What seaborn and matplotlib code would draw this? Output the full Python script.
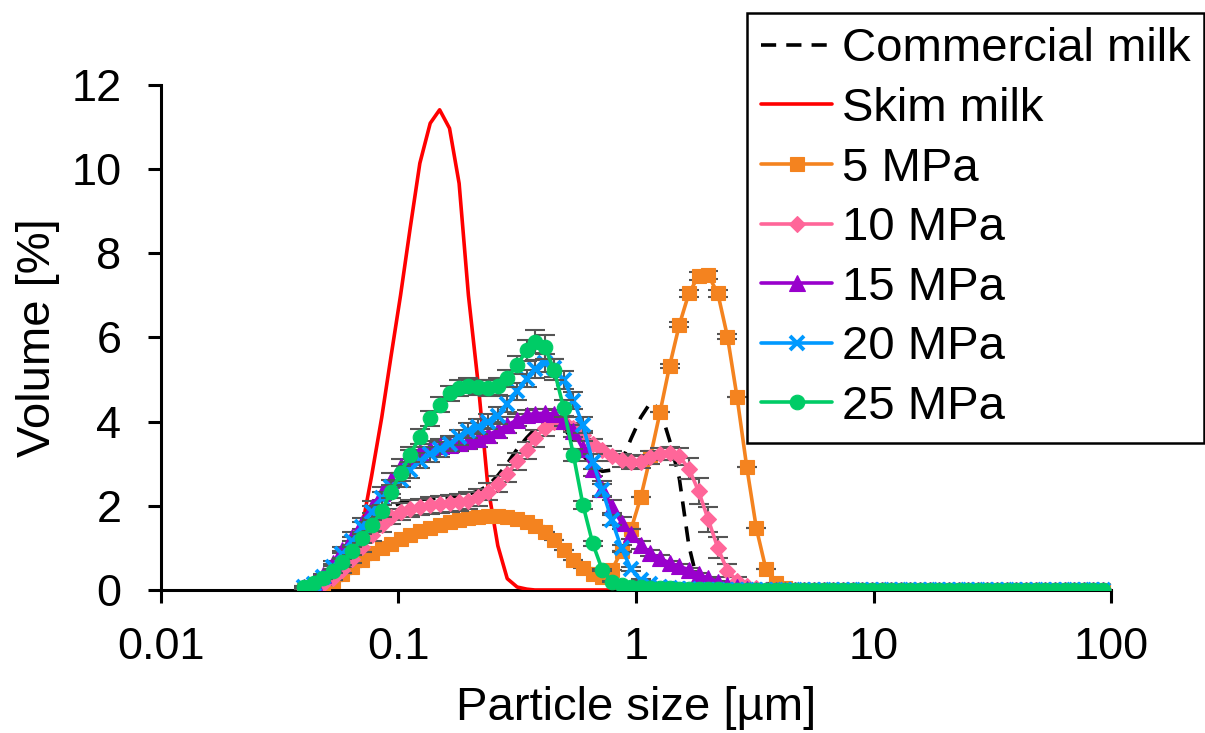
import matplotlib
matplotlib.use("Agg")
import matplotlib.pyplot as plt
import seaborn as sns
from matplotlib.ticker import FixedLocator, FixedFormatter, NullLocator

# ---------------- data ----------------
size_um = [
    0.040, 0.044, 0.048, 0.053, 0.058, 0.064, 0.070, 0.077, 0.085, 0.093,
    0.102, 0.112, 0.123, 0.136, 0.149, 0.164, 0.180, 0.197, 0.217, 0.238,
    0.262, 0.287, 0.316, 0.347, 0.375, 0.412, 0.452, 0.496, 0.545, 0.598,
    0.657, 0.721, 0.791, 0.869, 0.954, 1.047, 1.150, 1.262, 1.386, 1.522,
    1.670, 1.834, 2.013, 2.210, 2.427, 2.664, 2.925, 3.211, 3.525, 3.870,
    4.249, 4.665, 5.122, 5.623, 6.173, 6.777, 7.440, 8.168, 8.968, 9.845,
    10.81, 11.87, 13.03, 14.30, 15.70, 17.24, 18.93, 20.78, 22.81, 25.05,
    27.50, 30.19, 33.14, 36.38, 39.94, 43.85, 48.14, 52.85, 58.03, 63.71,
    69.94, 76.78, 84.29, 92.54,
]

commercial_milk = [
    0.05, 0.12, 0.22, 0.40, 0.65, 0.95, 1.25, 1.55, 1.80, 1.97,
    2.07, 2.12, 2.15, 2.17, 2.18, 2.20, 2.24, 2.28, 2.35, 2.48,
    2.72, 3.00, 3.35, 3.62, 3.82, 3.95, 4.00, 3.85, 3.55, 3.20,
    2.95, 2.82, 2.85, 3.05, 3.60, 4.10, 4.45, 4.30, 3.55, 2.65,
    1.05, 0.10, 0, 0, 0, 0, 0, 0, 0, 0,
    0, 0, 0, 0, 0, 0, 0, 0, 0, 0,
    0, 0, 0, 0, 0, 0, 0, 0, 0, 0,
    0, 0, 0, 0, 0, 0, 0, 0, 0, 0,
    0, 0, 0, 0,
]

skim_milk = [
    0, 0.01, 0.03, 0.10, 0.30, 0.75, 1.45, 2.70, 4.10, 5.55,
    7.00, 8.60, 10.14, 11.09, 11.41, 10.97, 9.66, 7.00, 4.85, 2.45,
    1.05, 0.27, 0.07, 0.02, 0, 0, 0, 0, 0, 0,
    0, 0, 0, 0, 0, 0, 0, 0, 0, 0,
    0, 0, 0, 0, 0, 0, 0, 0, 0, 0,
    0, 0, 0, 0, 0, 0, 0, 0, 0, 0,
    0, 0, 0, 0, 0, 0, 0, 0, 0, 0,
    0, 0, 0, 0, 0, 0, 0, 0, 0, 0,
    0, 0, 0, 0,
]

mpa_5 = [
    0.02, 0.06, 0.12, 0.21, 0.38, 0.55, 0.72, 0.87, 1.00, 1.10,
    1.20, 1.30, 1.39, 1.48, 1.55, 1.61, 1.67, 1.71, 1.74, 1.75,
    1.75, 1.73, 1.69, 1.62, 1.52, 1.38, 1.18, 0.95, 0.72, 0.52,
    0.38, 0.30, 0.48, 0.92, 1.45, 2.20, 3.17, 4.22, 5.33, 6.30,
    7.05, 7.46, 7.48, 7.05, 6.02, 4.58, 2.93, 1.47, 0.49, 0.16,
    0.04, 0.01, 0, 0, 0, 0, 0, 0, 0, 0,
    0, 0, 0, 0, 0, 0, 0, 0, 0, 0,
    0, 0, 0, 0, 0, 0, 0, 0, 0, 0,
    0, 0, 0, 0,
]
mpa_5_err = [
    0, 0, 0, 0, 0, 0, 0, 0, 0, 0,
    0, 0, 0, 0, 0, 0, 0, 0, 0, 0,
    0, 0, 0, 0, 0, 0, 0, 0, 0, 0,
    0, 0, 0, 0, 0, 0, 0, 0, 0.05, 0.06,
    0.08, 0.10, 0.10, 0.08, 0.06, 0, 0, 0, 0, 0,
    0, 0, 0, 0, 0, 0, 0, 0, 0, 0,
    0, 0, 0, 0, 0, 0, 0, 0, 0, 0,
    0, 0, 0, 0, 0, 0, 0, 0, 0, 0,
    0, 0, 0, 0,
]

mpa_10 = [
    0.04, 0.08, 0.15, 0.28, 0.48, 0.74, 1.03, 1.31, 1.54, 1.74,
    1.86, 1.93, 1.97, 2.01, 2.04, 2.06, 2.08, 2.12, 2.20, 2.34,
    2.52, 2.76, 3.06, 3.32, 3.60, 3.85, 3.98, 3.98, 3.86, 3.68,
    3.48, 3.32, 3.18, 3.08, 3.03, 3.05, 3.15, 3.23, 3.25, 3.18,
    2.88, 2.35, 1.68, 1.00, 0.46, 0.22, 0.10, 0.04, 0.01, 0,
    0, 0, 0, 0, 0, 0, 0, 0, 0, 0,
    0, 0, 0, 0, 0, 0, 0, 0, 0, 0,
    0, 0, 0, 0, 0, 0, 0, 0, 0, 0,
    0, 0, 0, 0,
]
mpa_10_err = [
    0.01, 0.02, 0.03, 0.05, 0.07, 0.10, 0.12, 0.15, 0.17, 0.18,
    0.20, 0.20, 0.20, 0.20, 0.20, 0.20, 0.20, 0.20, 0.20, 0.20,
    0.20, 0.20, 0.20, 0.20, 0.20, 0.18, 0.15, 0.12, 0.10, 0.10,
    0.10, 0.10, 0.12, 0.15, 0.15, 0.15, 0.15, 0.15, 0.15, 0.20,
    0.25, 0.30, 0.30, 0.25, 0.15, 0.08, 0.04, 0.02, 0.01, 0,
    0, 0, 0, 0, 0, 0, 0, 0, 0, 0,
    0, 0, 0, 0, 0, 0, 0, 0, 0, 0,
    0, 0, 0, 0, 0, 0, 0, 0, 0, 0,
    0, 0, 0, 0,
]

mpa_15 = [
    0.08, 0.18, 0.35, 0.63, 0.95, 1.27, 1.58, 1.98, 2.30, 2.62,
    2.95, 3.15, 3.28, 3.36, 3.41, 3.45, 3.49, 3.53, 3.58, 3.68,
    3.80, 3.92, 4.04, 4.16, 4.19, 4.20, 4.18, 4.02, 3.78, 3.35,
    2.88, 2.40, 1.98, 1.60, 1.33, 1.07, 0.88, 0.75, 0.64, 0.56,
    0.48, 0.37, 0.28, 0.20, 0.12, 0.06, 0.03, 0.01, 0, 0,
    0, 0, 0, 0, 0, 0, 0, 0, 0, 0,
    0, 0, 0, 0, 0, 0, 0, 0, 0, 0,
    0, 0, 0, 0, 0, 0, 0, 0, 0, 0,
    0, 0, 0, 0,
]
mpa_15_err = [
    0.01, 0.02, 0.04, 0.06, 0.08, 0.10, 0.12, 0.14, 0.15, 0.16,
    0.17, 0.18, 0.18, 0.18, 0.18, 0.18, 0.18, 0.18, 0.18, 0.18,
    0.18, 0.18, 0.15, 0.12, 0.10, 0.10, 0.10, 0.12, 0.15, 0.18,
    0.18, 0.18, 0.16, 0.14, 0.12, 0.10, 0.08, 0.07, 0.06, 0.05,
    0.04, 0.03, 0.02, 0.02, 0.01, 0.01, 0, 0, 0, 0,
    0, 0, 0, 0, 0, 0, 0, 0, 0, 0,
    0, 0, 0, 0, 0, 0, 0, 0, 0, 0,
    0, 0, 0, 0, 0, 0, 0, 0, 0, 0,
    0, 0, 0, 0,
]

mpa_20 = [
    0.06, 0.15, 0.30, 0.55, 0.85, 1.17, 1.50, 1.85, 2.18, 2.45,
    2.62, 2.85, 3.07, 3.22, 3.34, 3.48, 3.63, 3.78, 3.88, 4.00,
    4.14, 4.42, 4.72, 5.02, 5.25, 5.39, 5.27, 4.99, 4.50, 3.92,
    3.05, 2.38, 1.66, 0.99, 0.50, 0.24, 0.14, 0.08, 0.05, 0.03,
    0.02, 0.01, 0, 0, 0, 0, 0, 0, 0, 0,
    0, 0, 0, 0, 0, 0, 0, 0, 0, 0,
    0, 0, 0, 0, 0, 0, 0, 0, 0, 0,
    0, 0, 0, 0, 0, 0, 0, 0, 0, 0,
    0, 0, 0, 0,
]
mpa_20_err = [
    0.01, 0.02, 0.04, 0.06, 0.08, 0.10, 0.12, 0.14, 0.15, 0.16,
    0.17, 0.18, 0.18, 0.18, 0.18, 0.18, 0.18, 0.18, 0.18, 0.18,
    0.20, 0.20, 0.20, 0.20, 0.22, 0.22, 0.22, 0.22, 0.20, 0.20,
    0.18, 0.15, 0.12, 0.08, 0.05, 0.03, 0.02, 0.01, 0.01, 0,
    0, 0, 0, 0, 0, 0, 0, 0, 0, 0,
    0, 0, 0, 0, 0, 0, 0, 0, 0, 0,
    0, 0, 0, 0, 0, 0, 0, 0, 0, 0,
    0, 0, 0, 0, 0, 0, 0, 0, 0, 0,
    0, 0, 0, 0,
]

mpa_25 = [
    0.08, 0.16, 0.28, 0.46, 0.67, 0.93, 1.23, 1.54, 1.88, 2.34,
    2.77, 3.21, 3.64, 4.08, 4.40, 4.67, 4.80, 4.85, 4.82, 4.80,
    4.84, 5.03, 5.35, 5.70, 5.90, 5.78, 5.23, 4.32, 3.21, 2.02,
    1.11, 0.48, 0.20, 0.12, 0.08, 0.06, 0.05, 0.04, 0.04, 0.03,
    0.03, 0.02, 0.02, 0.02, 0.01, 0.01, 0.01, 0.01, 0.01, 0.01,
    0.01, 0.01, 0.01, 0.01, 0.01, 0.01, 0.01, 0.01, 0.01, 0.01,
    0, 0, 0, 0, 0, 0, 0, 0, 0, 0,
    0, 0, 0, 0, 0, 0, 0, 0, 0, 0,
    0, 0, 0, 0,
]
mpa_25_err = [
    0.01, 0.02, 0.03, 0.05, 0.07, 0.09, 0.11, 0.13, 0.15, 0.16,
    0.17, 0.18, 0.18, 0.18, 0.18, 0.18, 0.18, 0.18, 0.18, 0.18,
    0.20, 0.20, 0.22, 0.25, 0.28, 0.28, 0.25, 0.20, 0.15, 0.10,
    0.06, 0.03, 0.02, 0.01, 0.01, 0, 0, 0, 0, 0,
    0, 0, 0, 0, 0, 0, 0, 0, 0, 0,
    0, 0, 0, 0, 0, 0, 0, 0, 0, 0,
    0, 0, 0, 0, 0, 0, 0, 0, 0, 0,
    0, 0, 0, 0, 0, 0, 0, 0, 0, 0,
    0, 0, 0, 0,
]

series_names = ["Commercial milk", "Skim milk", "5 MPa", "10 MPa",
                "15 MPa", "20 MPa", "25 MPa"]
x_ticks = [0.01, 0.1, 1, 10, 100]
x_tick_labels = ["0.01", "0.1", "1", "10", "100"]
y_ticks = [0, 2, 4, 6, 8, 10, 12]

for arr in [commercial_milk, skim_milk, mpa_5, mpa_5_err, mpa_10, mpa_10_err,
            mpa_15, mpa_15_err, mpa_20, mpa_20_err, mpa_25, mpa_25_err]:
    assert len(arr) == len(size_um), len(arr)

# ---------------- style ----------------
sns.set_theme(style="white")
plt.rcParams["font.family"] = ["Liberation Sans", "DejaVu Sans"]
plt.rcParams["text.color"] = "black"
plt.rcParams["axes.labelcolor"] = "black"
plt.rcParams["xtick.color"] = "black"
plt.rcParams["ytick.color"] = "black"

fig = plt.figure(figsize=(12.05, 7.33), dpi=100)
ax = fig.add_axes([0.1336, 0.1951, 0.7884, 0.689])

LW = 2.6
series = [
    (series_names[0], commercial_milk, None, "black", None, 0, (0, (4.2, 2.8))),
    (series_names[1], skim_milk, None, "#FF0000", None, 0, "-"),
    (series_names[2], mpa_5, mpa_5_err, "#F4831F", "s", 9.5, "-"),
    (series_names[3], mpa_10, mpa_10_err, "#FF6699", "D", 8.0, "-"),
    (series_names[4], mpa_15, mpa_15_err, "#9900CC", "^", 11.0, "-"),
    (series_names[5], mpa_20, mpa_20_err, "#0099FF", "x", 10.0, "-"),
    (series_names[6], mpa_25, mpa_25_err, "#00CC66", "o", 10.5, "-"),
]

for i, (name, vals, err, color, marker, ms, ls) in enumerate(series):
    z = 3 + 2 * i
    if err is not None:
        ax.errorbar(size_um, vals, yerr=err, fmt="none", ecolor="#555555",
                    elinewidth=1.5, capsize=7, capthick=1.5, zorder=z)
    kw = dict(color=color, linewidth=LW, linestyle=ls, zorder=z + 1)
    if marker is not None:
        kw.update(marker=marker, markersize=ms, markerfacecolor=color,
                  markeredgecolor=color,
                  markeredgewidth=2.8 if marker == "x" else 0.8)
    sns.lineplot(x=size_um, y=vals, ax=ax, label=name, estimator=None,
                 sort=False, errorbar=None, **kw)

ax.set_xscale("log")
ax.set_xlim(0.01, 100)
ax.set_ylim(0, 12)
ax.xaxis.set_major_locator(FixedLocator(x_ticks))
ax.xaxis.set_major_formatter(FixedFormatter(x_tick_labels))
ax.xaxis.set_minor_locator(NullLocator())
ax.set_yticks(y_ticks)
ax.set_yticklabels([str(v) for v in y_ticks])

for side in ["top", "right"]:
    ax.spines[side].set_visible(False)
for side in ["left", "bottom"]:
    ax.spines[side].set_visible(True)
    ax.spines[side].set_color("black")
    ax.spines[side].set_linewidth(2.2)

ax.tick_params(axis="both", which="major", bottom=True, left=True,
               direction="out", length=9.5, width=2.2, colors="black",
               labelsize=32.5)
ax.tick_params(axis="y", pad=19)
ax.tick_params(axis="x", pad=17)

ax.set_xlabel("Particle size [µm]", fontsize=34, color="black", labelpad=13)
ax.set_ylabel("Volume [%]", fontsize=34, color="black", labelpad=8)
ax.grid(False)

handles, labels = ax.get_legend_handles_labels()
leg = ax.legend(handles, labels, loc="upper left",
                bbox_to_anchor=(0.62, 0.982), bbox_transform=fig.transFigure,
                frameon=True, fancybox=False, framealpha=1,
                edgecolor="black", fontsize=34, handlelength=1.5,
                handletextpad=0.2, labelspacing=0.33, borderpad=0.3,
                borderaxespad=0, numpoints=1)
leg.get_frame().set_linewidth(1.8)
leg.set_zorder(50)

fig.savefig("out.png", dpi=100)
